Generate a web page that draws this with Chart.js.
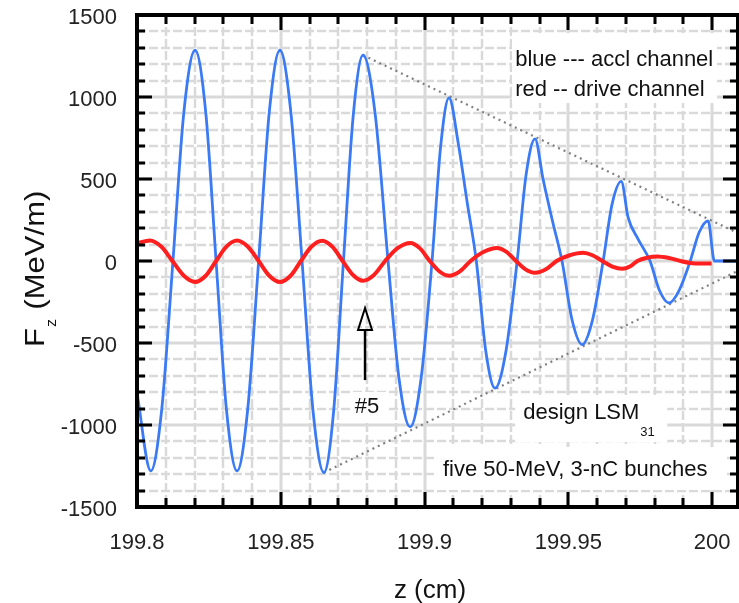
<!DOCTYPE html>
<html>
<head>
<meta charset="utf-8">
<script src="https://cdn.jsdelivr.net/npm/chart.js@4.4.0/dist/chart.umd.min.js"></script>
<style>
  html, body { margin: 0; padding: 0; background: #fff; }
  #wrap { width: 739px; height: 603px; position: relative; }
</style>
</head>
<body>
<div id="wrap"><canvas id="fz"></canvas></div>
<script>
// accelerating channel: z (cm) and Fz (MeV/m)
const accelZ = [
  199.8000, 199.8048, 199.8086, 199.8125, 199.8163, 199.8202, 199.8239, 199.8275,
  199.8311, 199.8348, 199.8385, 199.8423, 199.8460, 199.8497, 199.8535, 199.8574,
  199.8612, 199.8650, 199.8684, 199.8718, 199.8752, 199.8786, 199.8828, 199.8873,
  199.8911, 199.8950, 199.8988, 199.9026, 199.9056, 199.9085, 199.9117, 199.9148,
  199.9180, 199.9213, 199.9245, 199.9283, 199.9322, 199.9353, 199.9384, 199.9412,
  199.9444, 199.9478, 199.9513, 199.9548, 199.9584, 199.9621, 199.9652, 199.9684,
  199.9708, 199.9742, 199.9784, 199.9817, 199.9850, 199.9885, 199.9924, 199.9955,
  199.9986, 200.0008, 200.0090
];
const accelFz = [
  -805, -1280, -905, 0, 908, 1285, 908, 0,
  -905, -1280, -905, 0, 908, 1285, 908, 0,
  -912, -1290, -912, 0, 888, 1255, 900, 0,
  -715, -1012, -715, 0, 700, 995, 720, 360,
  0, -550, -775, -550, 0, 525, 745, 500,
  250, 0, -360, -510, -360, 0, 345, 485,
  265, 135, 0, -180, -256, -180, 0, 175,
  245, 0, 0
];

// drive channel: z (cm) and Fz (MeV/m)
const driveZ = [
  199.8000, 199.8045, 199.8084, 199.8123, 199.8163, 199.8202, 199.8239, 199.8275,
  199.8311, 199.8348, 199.8385, 199.8423, 199.8460, 199.8497, 199.8534, 199.8570,
  199.8607, 199.8644, 199.8680, 199.8715, 199.8751, 199.8786, 199.8824, 199.8863,
  199.8906, 199.8950, 199.8984, 199.9018, 199.9052, 199.9085, 199.9123, 199.9160,
  199.9206, 199.9252, 199.9285, 199.9318, 199.9351, 199.9384, 199.9422, 199.9459,
  199.9505, 199.9551, 199.9584, 199.9618, 199.9653, 199.9687, 199.9714, 199.9740,
  199.9774, 199.9809, 199.9850, 199.9890, 199.9924, 199.9958, 199.9998
];
const driveFz = [
  108, 125, 88, 0, -90, -128, -90, 0,
  88, 125, 88, 0, -90, -128, -90, 0,
  88, 124, 86, 0, -85, -120, -85, 0,
  78, 110, 77, 0, -64, -90, -63, 0,
  56, 80, 56, 0, -51, -72, -51, 0,
  35, 50, 35, 0, -34, -48, -34, 0,
  20, 27, 18, 0, -12, -16, -15
];

// design envelope through the trailing peaks and troughs
const envTopZ = [199.8786, 200.009];
const envTopFz = [1255, 170];
const envBotZ = [199.8650, 200.009];
const envBotFz = [-1290, -60];

const zTicks = [199.8, 199.85, 199.9, 199.95, 200];
const fzTicks = [-1500, -1000, -500, 0, 500, 1000, 1500];

const FONT = '"Liberation Sans", Arial, Helvetica, sans-serif';

const pts = (xs, ys) => xs.map((x, i) => ({ x: x, y: ys[i] }));

// grid, frame, inward ticks and the text annotations
const framePlugin = {
  id: 'framePlugin',
  beforeDatasetsDraw(chart) {
    const { ctx, chartArea: a, scales: { x, y } } = chart;
    ctx.save();
    ctx.beginPath();
    ctx.rect(a.left, a.top, a.right - a.left, a.bottom - a.top);
    ctx.clip();

    ctx.strokeStyle = '#d9d9d9';
    for (let i = 0; i <= 20; i++) {
      const px = Math.round(x.getPixelForValue(199.8 + i * 0.01));
      ctx.lineWidth = i % 5 === 0 ? 3 : 2.5;
      ctx.setLineDash(i % 5 === 0 ? [] : [9, 3]);
      ctx.beginPath(); ctx.moveTo(px, a.top); ctx.lineTo(px, a.bottom); ctx.stroke();
    }
    for (let i = 0; i <= 30; i++) {
      const py = Math.round(y.getPixelForValue(-1500 + i * 100));
      ctx.lineWidth = i % 5 === 0 ? 3 : 2.5;
      ctx.setLineDash(i % 5 === 0 ? [] : [9, 3]);
      ctx.beginPath(); ctx.moveTo(a.left, py); ctx.lineTo(a.right, py); ctx.stroke();
    }
    ctx.setLineDash([]);

    // white boxes behind the labels
    ctx.fillStyle = '#fff';
    const box = (z0, z1, f0, f1) => {
      const x0 = x.getPixelForValue(z0), x1 = x.getPixelForValue(z1);
      const y0 = y.getPixelForValue(f0), y1 = y.getPixelForValue(f1);
      ctx.fillRect(x0, y0, x1 - x0, y1 - y0);
    };
    box(199.9304, 200.0017, 1390, 963);
    box(199.9315, 199.9844, -817, -1104);
    box(199.9044, 200.0052, -1134, -1396);
    box(199.8741, 199.8866, -799, -970);
    ctx.restore();
  },
  afterDatasetsDraw(chart) {
    const { ctx, chartArea: a, scales: { x, y } } = chart;
    ctx.save();
    ctx.strokeStyle = '#000';
    ctx.fillStyle = '#000';

    // inward ticks on all four sides
    ctx.lineWidth = 3;
    for (let i = 0; i <= 20; i++) {
      const px = Math.round(x.getPixelForValue(199.8 + i * 0.01));
      const len = i % 5 === 0 ? 15 : 9;
      ctx.beginPath();
      ctx.moveTo(px, a.bottom); ctx.lineTo(px, a.bottom - len);
      ctx.moveTo(px, a.top); ctx.lineTo(px, a.top + len);
      ctx.stroke();
    }
    for (let i = 0; i <= 30; i++) {
      const py = Math.round(y.getPixelForValue(-1500 + i * 100));
      const len = i % 5 === 0 ? 15 : 8;
      ctx.beginPath();
      ctx.moveTo(a.left, py); ctx.lineTo(a.left + len, py);
      ctx.moveTo(a.right, py); ctx.lineTo(a.right - len, py);
      ctx.stroke();
    }
    ctx.lineWidth = 4;
    ctx.strokeRect(a.left, a.top, a.right - a.left, a.bottom - a.top);

    // arrow pointing at bunch #5
    const ax = x.getPixelForValue(199.8793);
    const tip = y.getPixelForValue(-287);
    const base = y.getPixelForValue(-421);
    const tail = y.getPixelForValue(-726);
    ctx.lineWidth = 2.5;
    ctx.beginPath(); ctx.moveTo(ax, base); ctx.lineTo(ax, tail); ctx.stroke();
    ctx.lineWidth = 2;
    ctx.beginPath();
    ctx.moveTo(ax, tip); ctx.lineTo(ax - 7, base); ctx.lineTo(ax + 7, base); ctx.closePath();
    ctx.stroke();

    ctx.fillStyle = '#111';
    ctx.textBaseline = 'alphabetic';
    ctx.textAlign = 'center';
    ctx.font = '22px ' + FONT;
    ctx.fillText('#5', x.getPixelForValue(199.88), y.getPixelForValue(-927));

    ctx.textAlign = 'left';
    ctx.fillText('blue --- accl channel', x.getPixelForValue(199.9315), y.getPixelForValue(1189));
    ctx.fillText('red -- drive channel', x.getPixelForValue(199.9315), y.getPixelForValue(1006));
    ctx.fillText('design LSM', x.getPixelForValue(199.9343), y.getPixelForValue(-963));
    ctx.fillText('five 50-MeV, 3-nC bunches', x.getPixelForValue(199.9064), y.getPixelForValue(-1311));
    ctx.font = '13px ' + FONT;
    ctx.fillText('31', x.getPixelForValue(199.975), y.getPixelForValue(-1067));

    // axis titles
    ctx.font = '26px ' + FONT;
    ctx.textAlign = 'center';
    ctx.fillText('z (cm)', 430, 598);

    ctx.translate(44, 347);
    ctx.rotate(-Math.PI / 2);
    ctx.scale(1.15, 1);
    ctx.textAlign = 'left';
    ctx.font = '27px ' + FONT;
    ctx.fillText('F', 0, 0);
    const wF = ctx.measureText('F').width;
    ctx.font = '14px ' + FONT;
    ctx.fillText('z', wF + 1, 12);
    ctx.font = '27px ' + FONT;
    ctx.fillText('(MeV/m)', wF + 16, 0);
    ctx.restore();
  }
};

new Chart(document.getElementById('fz'), {
  type: 'line',
  data: {
    datasets: [
      {
        label: 'drive channel',
        data: pts(driveZ, driveFz),
        borderColor: '#ff1f1f',
        borderWidth: 4,
        pointRadius: 0,
        cubicInterpolationMode: 'monotone'
      },
      {
        label: 'accl channel',
        data: pts(accelZ, accelFz),
        borderColor: '#3a7af5',
        borderWidth: 2.8,
        pointRadius: 0,
        cubicInterpolationMode: 'monotone'
      },
      {
        label: 'envelope top',
        data: pts(envTopZ, envTopFz),
        borderColor: '#808080',
        borderWidth: 2.2,
        borderDash: [2, 4],
        pointRadius: 0,
        tension: 0
      },
      {
        label: 'envelope bottom',
        data: pts(envBotZ, envBotFz),
        borderColor: '#808080',
        borderWidth: 2.2,
        borderDash: [2, 4],
        pointRadius: 0,
        tension: 0
      }
    ]
  },
  options: {
    responsive: true,
    maintainAspectRatio: false,
    animation: false,
    layout: { padding: { top: 15, right: 1, left: 0, bottom: 0 } },
    plugins: {
      legend: { display: false },
      tooltip: { enabled: false }
    },
    scales: {
      x: {
        type: 'linear',
        min: 199.8,
        max: 200.009,
        grid: { display: false, drawTicks: false },
        border: { display: false },
        afterBuildTicks: (s) => { s.ticks = zTicks.map((v) => ({ value: v })); },
        afterFit: (s) => {
          s.height = 96;
          s.paddingLeft = 0; s.paddingRight = 0;
        },
        ticks: {
          padding: 23,
          maxRotation: 0,
          autoSkip: false,
          color: '#222',
          font: { family: FONT, size: 22 },
          callback: (v) => String(v)
        }
      },
      y: {
        type: 'linear',
        min: -1500,
        max: 1500,
        grid: { display: false, drawTicks: false },
        border: { display: false },
        afterBuildTicks: (s) => { s.ticks = fzTicks.map((v) => ({ value: v })); },
        afterFit: (s) => {
          s.width = 137;
          s.paddingTop = 0; s.paddingBottom = 0;
        },
        ticks: {
          padding: 20,
          labelOffset: 3,
          color: '#222',
          font: { family: FONT, size: 22 },
          callback: (v) => String(v)
        }
      }
    }
  },
  plugins: [framePlugin]
});
</script>
</body>
</html>
